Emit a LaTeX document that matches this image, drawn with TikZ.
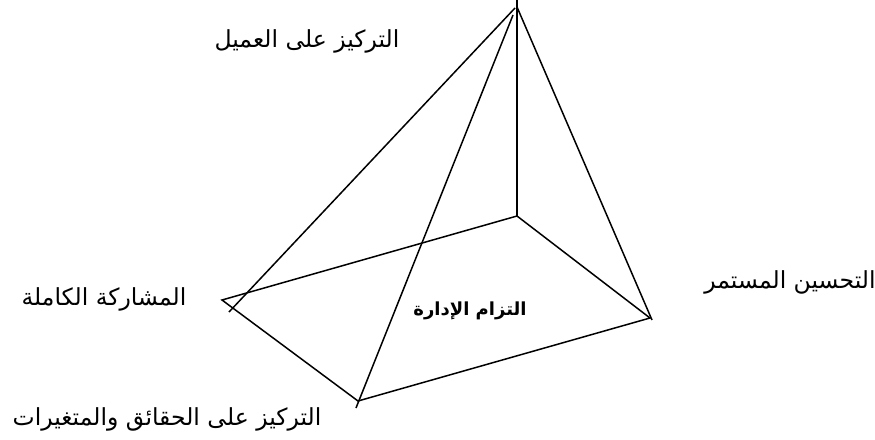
\documentclass[tikz,border=0pt]{standalone}
\usepackage{fontspec}
\newfontfamily\arabicfont[Script=Arabic]{DejaVu Sans}
\TeXXeTstate=1
\tikzset{lbl/.style={font=\arabicfont\fontsize{23.5}{26}\selectfont,inner sep=0pt,outer sep=0pt}}
\begin{document}
\begin{tikzpicture}[x=1pt,y=-1pt,line width=1.5pt]
\useasboundingbox (0,0) rectangle (875,439);
\coordinate (top) at (517,0);
\coordinate (apex) at (517,7);
\coordinate (back) at (517,216);
\coordinate (left) at (222,300);
\coordinate (front) at (358,401);
\coordinate (right) at (650,318);
\coordinate (leftend) at (229,312);
\coordinate (frontend) at (356,408);
\coordinate (rightend) at (652,320);
\coordinate (frontstart) at (513,15);
\coordinate (leftstart) at (515,8);
\node[lbl] (customer) at (307,41) {\beginR التركيز على العميل\endR};
\node[lbl] (participation) at (104,299) {\beginR المشاركة الكاملة\endR};
\node[lbl] (facts) at (167,419) {\beginR التركيز على الحقائق والمتغيرات\endR};
\node[lbl] (improvement) at (790,282) {\beginR التحسين المستمر\endR};
\node[lbl,font=\arabicfont\bfseries\fontsize{18}{20}\selectfont] (commitment) at (470,311) {\beginR التزام الإدارة\endR};
\draw (top) -- (back);
\draw (back) -- (left) -- (front) -- (right) -- (back);
\draw (leftstart) -- (leftend);
\draw (frontstart) -- (frontend);
\draw (apex) -- (rightend);
\end{tikzpicture}
\end{document}
